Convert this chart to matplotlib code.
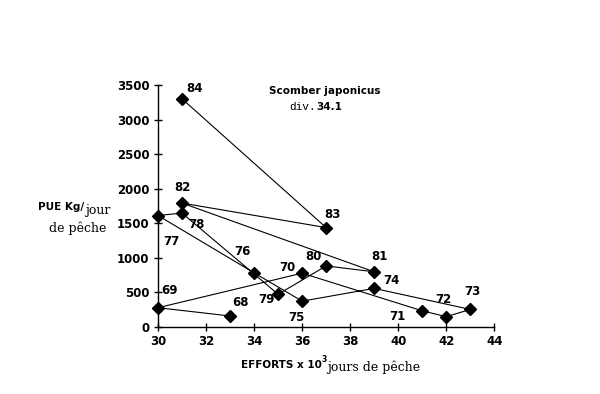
import matplotlib
matplotlib.use("Agg")
import matplotlib.pyplot as plt

# --- data: year, effort (x 10^3 days), CPUE (kg/day) ---
years = [68, 69, 70, 71, 72, 73, 74, 75, 76, 77, 78, 79, 80, 81, 82, 83, 84]
effort = [33, 30, 36, 41, 42, 43, 39, 36, 34, 30, 31, 35, 37, 39, 31, 37, 31]
pue = [155, 275, 775, 230, 145, 250, 555, 370, 780, 1610, 1645, 470, 880, 795, 1790, 1435, 3300]
xticks = [30, 32, 34, 36, 38, 40, 42, 44]
yticks = [0, 500, 1000, 1500, 2000, 2500, 3000, 3500]

# label offsets in pixels (dx, dy up)
offsets = [(10, 13), (11, 17), (-15, 6), (-25, -6), (-3, 17), (2, 18), (17, 8),
           (-6, -16), (-12, 21), (13, -26), (14, -11), (-12, -5), (-13, 9),
           (5, 15), (0, 16), (6, 13), (12, 10)]

W, H = 600, 394
fig = plt.figure(figsize=(6, 3.94), dpi=100)
ax = fig.add_axes([158 / W, 1 - 326.7 / H, (494.3 - 158) / W, (326.7 - 85) / H])

ax.plot(effort, pue, color="black", lw=0.8, marker="D", markersize=6.5,
        markerfacecolor="black", markeredgecolor="black", clip_on=False, zorder=3)

for yr, x, y, (dx, dy) in zip(years, effort, pue, offsets):
    ax.annotate(str(yr), (x, y), xytext=(dx, dy), textcoords="offset pixels",
                ha="center", va="center", fontsize=8.5, fontweight="bold")

ax.set_xlim(30, 44)
ax.set_ylim(0, 3500)
ax.set_xticks(xticks)
ax.set_yticks(yticks)
for s in ["top", "right"]:
    ax.spines[s].set_visible(False)
for s in ["left", "bottom"]:
    ax.spines[s].set_linewidth(1.0)
ax.tick_params(direction="inout", length=6, width=1, labelsize=8.5, pad=3)
for lab in ax.get_xticklabels() + ax.get_yticklabels():
    lab.set_fontweight("bold")
ax.patch.set_alpha(0)

def px(x, y):
    return x / W, 1 - y / H

# title block
fig.text(*px(325, 91), "Scomber japonicus", ha="center", va="center",
         fontsize=7.5, fontweight="bold")
fig.text(*px(316, 107), "div.", ha="right", va="center",
         fontsize=8, family="Liberation Mono")
fig.text(*px(316, 107), "34.1", ha="left", va="center",
         fontsize=7.5, fontweight="bold")

# y label
fig.text(*px(84, 207), "PUE Kg/", ha="right", va="center",
         fontsize=7.5, fontweight="bold")
fig.text(*px(85, 210), "jour", ha="left", va="center",
         fontsize=9, family="DejaVu Serif")
fig.text(*px(78, 228), "de pêche", ha="center", va="center",
         fontsize=9, family="DejaVu Serif")

# x label
fig.text(*px(322, 365), "EFFORTS x 10", ha="right", va="center",
         fontsize=7.5, fontweight="bold")
fig.text(*px(322, 359), "3", ha="left", va="center", fontsize=5.5, fontweight="bold")
fig.text(*px(327, 367), "jours de pêche", ha="left", va="center",
         fontsize=9, family="DejaVu Serif")

fig.savefig("out.png", dpi=100)
